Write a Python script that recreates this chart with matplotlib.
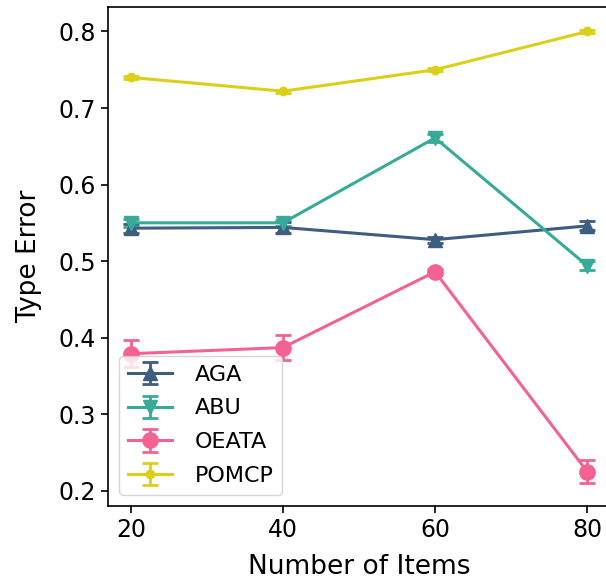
import numpy as np
import matplotlib

matplotlib.use("Agg")
import matplotlib.pyplot as plt

# ── Data ─────────────────────────────────────────────────────────────────────
items = [20, 40, 60, 80]

aga = [0.543, 0.544, 0.528, 0.546]
aga_err = [0.006, 0.007, 0.004, 0.006]

abu = [0.550, 0.550, 0.661, 0.494]
abu_err = [0.005, 0.004, 0.005, 0.006]

oeata = [0.379, 0.387, 0.486, 0.225]
oeata_err = [0.018, 0.016, 0.004, 0.015]

pomcp = [0.740, 0.722, 0.750, 0.800]
pomcp_err = [0.002, 0.002, 0.002, 0.002]

# ── Plot ─────────────────────────────────────────────────────────────────────
fig = plt.figure(figsize=(6.06, 5.85), dpi=100)
# right spine falls just outside the canvas, as in the reference
ax = fig.add_axes([108 / 606, 1 - 506 / 585, 502 / 606, 499 / 585])

style = dict(linewidth=2.2, capsize=6, capthick=2, elinewidth=2)
ax.errorbar(items, aga, yerr=aga_err, color="#3e5d80", marker="^",
            markersize=10, label="AGA", **style)
ax.errorbar(items, abu, yerr=abu_err, color="#36ab98", marker="v",
            markersize=10, label="ABU", **style)
ax.errorbar(items, oeata, yerr=oeata_err, color="#f46292", marker="o",
            markersize=11, label="OEATA", **style)
ax.errorbar(items, pomcp, yerr=pomcp_err, color="#dccf17", marker="o",
            markersize=6, label="POMCP", **style)

ax.set_xlim(17, 83)
ax.set_ylim(0.18, 0.832)
ax.set_xticks([20, 40, 60, 80])
ax.set_yticks([0.2, 0.3, 0.4, 0.5, 0.6, 0.7, 0.8])
ax.tick_params(labelsize=17, width=1.2, length=5)
for s in ax.spines.values():
    s.set_linewidth(1.2)

ax.set_xlabel("Number of Items", fontsize=19, labelpad=9)
ax.set_ylabel("Type Error", fontsize=19, labelpad=12)
ax.legend(loc="lower left", fontsize=16, handlelength=2.0,
          labelspacing=0.62, handletextpad=1.0)

fig.savefig("out.png", dpi=100)
